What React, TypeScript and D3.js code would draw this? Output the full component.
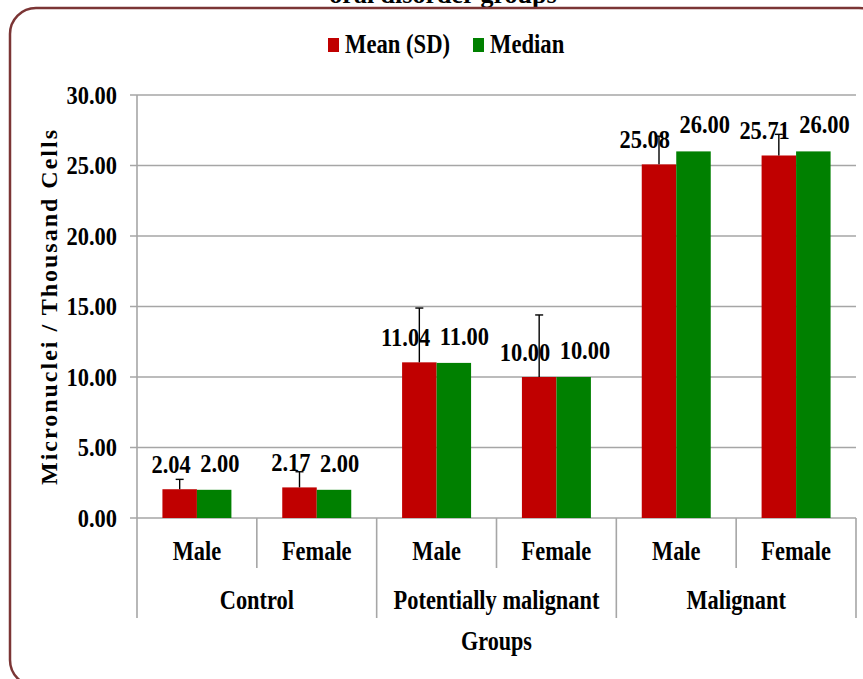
import React from "react";
import * as d3 from "d3";

const groups = ["Control", "Potentially malignant", "Malignant"];
const sexes = ["Male", "Female"];
const categories = ["Control|Male", "Control|Female", "PM|Male", "PM|Female", "Mal|Male", "Mal|Female"];
const meanValues = [2.04, 2.17, 11.04, 10.0, 25.08, 25.71];
const sdValues = [0.7, 1.11, 3.85, 4.4, 2.0, 1.5];
const medianValues = [2.0, 2.0, 11.0, 10.0, 26.0, 26.0];
const yTicks = [0, 5, 10, 15, 20, 25, 30];
const seriesNames = ["Mean (SD)", "Median"];
const seriesColors = ["#c00000", "#008000"];

const W = 863;
const H = 679;
const FONT = "'Liberation Serif', 'Times New Roman', serif";
const GRID = "#a6a6a6";

function T(props: {
  x: number; y: number; anchor?: string; size: number; sx?: number; rotate?: number;
  children: React.ReactNode; len?: number;
}) {
  const { x, y, anchor = "middle", size, sx = 1, rotate = 0, children, len } = props;
  return (
    <text
      transform={`translate(${x},${y}) rotate(${rotate}) scale(${sx},1)`}
      textAnchor={anchor}
      fontFamily={FONT}
      fontWeight="bold"
      fontSize={size}
      fill="#000"
      {...(len ? { textLength: len, lengthAdjust: "spacing" } : {})}
    >
      {children}
    </text>
  );
}

export default function App() {
  const left = 137, right = 856, top = 95, bottom = 518;
  const x0 = d3.scaleBand<string>().domain(categories).range([left, right]).paddingInner(0).paddingOuter(0);
  const x1 = d3.scaleBand<string>().domain(seriesNames).range([0, x0.bandwidth()]).paddingInner(0).paddingOuter(0.737);
  const y = d3.scaleLinear().domain([0, 30]).range([bottom, top]);
  const bw = x1.bandwidth();

  const series = [meanValues, medianValues];

  return (
    <svg width={W} height={H} style={{ position: "absolute", left: 0, top: 0, background: "#fff" }}>
      <rect x={0} y={0} width={W} height={H} fill="#fff" />
      {/* title fragment (cut off at the top, as in the source) */}
      <T x={443} y={3} size={26}>oral disorder groups</T>
      {/* border */}
      <rect x={10} y={8} width={875} height={678} rx={26} ry={26} fill="none" stroke="#7b3535" strokeWidth={2.5} />

      {/* legend */}
      {seriesNames.map((n, i) => {
        const lx = i === 0 ? 328 : 473;
        return (
          <g key={n}>
            <rect x={lx} y={38} width={11} height={14} fill={seriesColors[i]} />
            <T x={lx + 17} y={53} size={27} sx={0.84} anchor="start">{n}</T>
          </g>
        );
      })}

      {/* gridlines and y ticks */}
      {yTicks.map((t) => (
        <g key={t}>
          <line x1={130} x2={right} y1={y(t)} y2={y(t)} stroke={GRID} strokeWidth={1.6} />
          <T x={117} y={y(t) + 8.5} size={25.5} sx={0.88} anchor="end">{t.toFixed(2)}</T>
        </g>
      ))}
      {/* y axis line */}
      <line x1={left} x2={left} y1={top} y2={618} stroke={GRID} strokeWidth={1.6} />

      {/* x category separators */}
      {categories.map((c, i) => {
        const xr = (x0(c) as number) + x0.bandwidth();
        const long = i % 2 === 1;
        return <line key={c} x1={xr} x2={xr} y1={bottom} y2={long ? 618 : 568} stroke={GRID} strokeWidth={1.6} />;
      })}

      {/* bars */}
      {categories.map((c, i) => (
        <g key={c} transform={`translate(${x0(c)},0)`}>
          {series.map((vals, s) => (
            <rect
              key={s}
              x={x1(seriesNames[s]) as number}
              y={y(vals[i])}
              width={bw}
              height={bottom - y(vals[i])}
              fill={seriesColors[s]}
            />
          ))}
        </g>
      ))}

      {/* data labels */}
      {categories.map((c, i) => {
        const bx = x0(c) as number;
        const cm = bx + (x1(seriesNames[0]) as number) + bw / 2;
        const cd = bx + (x1(seriesNames[1]) as number) + bw / 2;
        return (
          <g key={c}>
            <T x={cm + 11} y={y(meanValues[i]) - 16} size={25.5} sx={0.88} anchor="end">{meanValues[i].toFixed(2)}</T>
            <T x={cd - 14} y={y(medianValues[i]) - 18} size={25.5} sx={0.88} anchor="start">{medianValues[i].toFixed(2)}</T>
          </g>
        );
      })}

      {/* error bars */}
      {categories.map((c, i) => {
        const cx = (x0(c) as number) + (x1(seriesNames[0]) as number) + bw / 2;
        const yt = y(meanValues[i] + sdValues[i]);
        return (
          <g key={c} stroke="#000" strokeWidth={1.4}>
            <line x1={cx} x2={cx} y1={y(meanValues[i])} y2={yt} />
            <line x1={cx - 4} x2={cx + 4} y1={yt} y2={yt} />
          </g>
        );
      })}

      {/* category labels */}
      {categories.map((c, i) => (
        <T key={c} x={(x0(c) as number) + x0.bandwidth() / 2} y={560} size={28} sx={0.8}>
          {sexes[i % 2]}
        </T>
      ))}
      {groups.map((g, gi) => {
        const gx = (x0(categories[gi * 2]) as number) + x0.bandwidth();
        return <T key={g} x={gx} y={609} size={28} sx={0.8}>{g}</T>;
      })}

      {/* axis titles */}
      <T x={(left + right) / 2} y={650} size={27} sx={0.82}>Groups</T>
      <T x={57} y={(130 + 485) / 2} size={24} rotate={-90} len={355}>Micronuclei / Thousand Cells</T>
    </svg>
  );
}
